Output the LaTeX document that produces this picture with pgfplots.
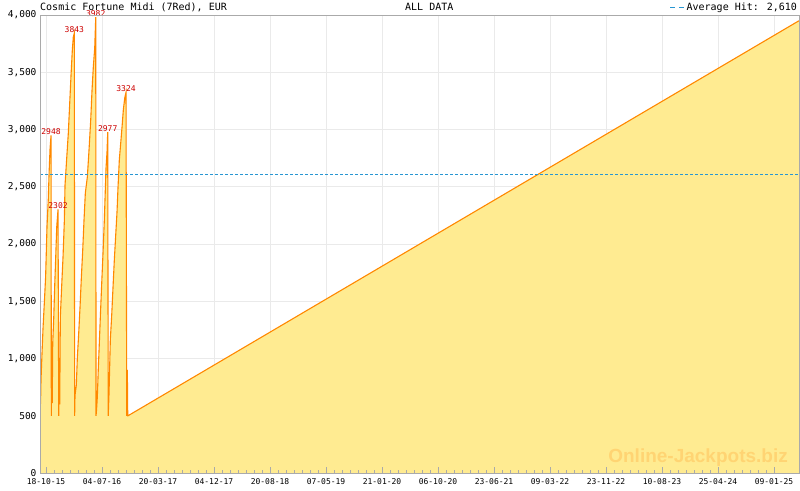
\documentclass[border=0pt]{standalone}
\usepackage{pgfplots}
\usepackage{pgfplotstable}
\pgfplotsset{compat=1.18}
\usepackage{fontspec}
\setmainfont{DejaVu Sans Mono}
\newfontfamily\wmfont{Liberation Sans}
\definecolor{fillyellow}{RGB}{255,235,145}
\definecolor{lineorange}{RGB}{255,136,0}
\definecolor{avgblue}{RGB}{40,150,210}
\definecolor{gridgray}{RGB}{234,234,234}
\definecolor{axisgray}{RGB}{170,170,170}
\definecolor{labelred}{RGB}{204,0,0}
\definecolor{wmorange}{RGB}{255,212,115}

\pgfplotsset{layers/mylayers/.define layer set={axis background,axis grid,main,axis ticks,axis lines,axis tick labels,axis descriptions,axis foreground}{/pgfplots/layers/standard}}

% x = days since 18-10-15
\pgfplotstableread{
x y
-25.5 603
-23.2 820
-18.6 1048
-13.9 1266
-7.9 1485
-1.9 1712
4.6 2157
10.7 2400
13.9 2603
18.6 2830
23.2 2948
24.6 500
26.5 873
28.8 611
31.1 1135
35.8 1354
40.4 1642
45.0 1886
49.7 2148
55.7 2302
59.0 500
61.3 880
63.6 600
66.4 1362
72.9 1642
78.9 1886
85.0 2200
88.2 2515
96.1 2751
103.5 2969
110.0 3231
116.1 3476
122.1 3694
126.7 3808
131.4 3843
132.8 500
134.6 680
140.7 768
145.3 1004
151.8 1223
157.9 1450
163.9 1703
170.4 1948
176.4 2210
182.5 2445
191.8 2585
199.6 2821
207.5 3083
213.6 3345
219.6 3546
226.1 3712
230.8 3982
232.2 500
234.5 550
238.2 664
242.8 917
247.5 1135
252.1 1362
258.6 1659
264.6 1921
270.7 2210
278.6 2664
283.2 2803
286.4 2977
288.8 500
292.5 698
294.8 873
298.5 1162
305.0 1380
311.1 1625
317.1 1860
323.6 2079
329.6 2280
334.3 2498
340.3 2734
346.8 2882
352.9 3022
358.9 3170
365.4 3275
371.4 3324
374.7 500
377.5 900
379.4 500
380.7 500
3496 3950
}\jackpot

\begin{document}
\begin{tikzpicture}
\begin{axis}[
  set layers=mylayers,
  scale only axis, width=759pt, height=458pt,
  at={(0pt,0pt)}, anchor=south west,
  xmin=-28, xmax=3496, ymin=0, ymax=4000,
  xtick={0,260,...,3380},
  xticklabels={18-10-15,04-07-16,20-03-17,04-12-17,20-08-18,07-05-19,21-01-20,06-10-20,23-06-21,09-03-22,23-11-22,10-08-23,25-04-24,09-01-25},
  minor x tick num=6,
  ytick={0,500,...,4000},
  xmajorgrids, ymajorgrids,
  major grid style={gridgray, line width=0.8pt},
  axis line style={axisgray, line width=0.9pt},
  tick align=inside, xtick pos=bottom, ytick pos=left,
  major tick length=6pt, minor tick length=3pt,
  every tick/.style={axisgray, line width=0.8pt},
  ytick style={draw=none},
  /pgf/number format/assume math mode=true,
  yticklabel style={font=\fontsize{9.5}{10}\selectfont, /pgf/number format/1000 sep={,}},
  xticklabel style={font=\fontsize{8}{9}\selectfont, yshift=-2pt},
  legend style={at={(1,1)}, anchor=south east, draw=none, fill=none,
    font=\fontsize{10}{12}\selectfont, inner sep=0pt, outer sep=0pt, yshift=1pt},
  legend image code/.code={\draw[#1, dash pattern=on 5pt off 4pt] (0pt,0pt) -- (14pt,0pt);},
]
\addplot[draw=none, fill=fillyellow, forget plot] table {\jackpot} \closedcycle;
\addplot[lineorange, line width=1.1pt, forget plot] table {\jackpot};
\addplot[avgblue, dash pattern=on 3pt off 2pt, line width=0.8pt] coordinates {(-28,2610) (3496,2610)};
\addlegendentry{Average Hit: 2,610}
\addplot[draw=none, mark=none, forget plot, nodes near coords, point meta=explicit symbolic,
  nodes near coords style={font=\fontsize{8}{8}\selectfont, text=labelred, anchor=south, inner sep=0.5pt}]
  coordinates {(23.2,2948)[2948] (55.7,2302)[2302] (131.4,3843)[3843] (230.8,3982)[3982] (286.4,2977)[2977] (371.4,3324)[3324]};
\node[font=\wmfont\bfseries\fontsize{19}{19}\selectfont, text=wmorange, anchor=east, inner sep=0pt, xshift=-11pt, yshift=15pt] at (rel axis cs:1,0) {Online-Jackpots.biz};
\end{axis}
\node[anchor=base west, inner sep=0pt, font=\fontsize{10}{12}\selectfont] at (0pt,462.5pt) {Cosmic Fortune Midi (7Red), EUR};
\node[anchor=base west, inner sep=0pt, font=\fontsize{10}{12}\selectfont] at (365pt,462.5pt) {ALL DATA};
\pgfresetboundingbox
\path[use as bounding box] (-40pt,-17pt) rectangle (760pt,473pt);
\end{tikzpicture}
\end{document}
